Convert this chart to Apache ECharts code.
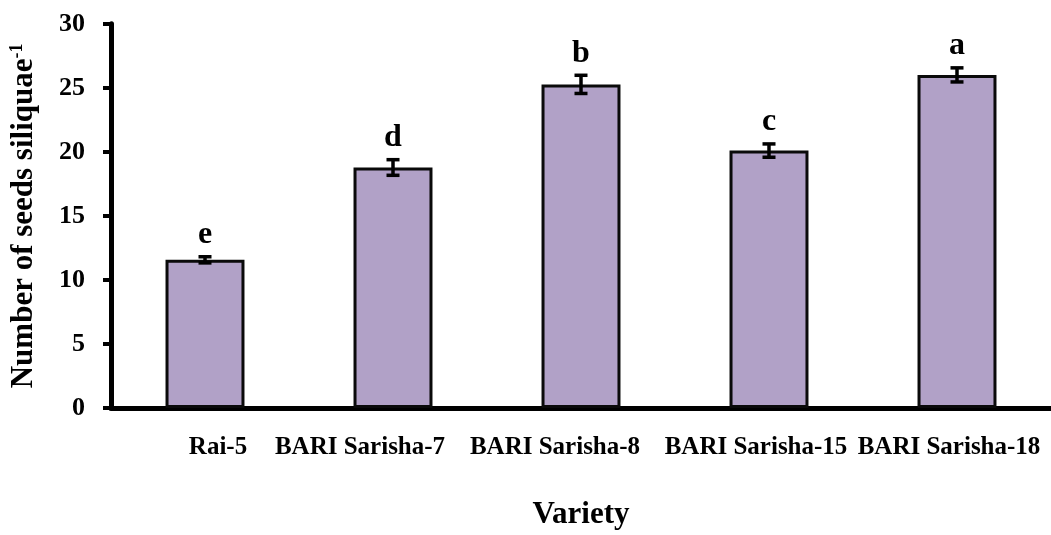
<!DOCTYPE html>
<html>
<head>
<meta charset="utf-8">
<script src="https://cdn.jsdelivr.net/npm/echarts@6/dist/echarts.min.js"></script>
<style>
  html, body { margin: 0; padding: 0; background: #fff; }
  #chart { width: 1051px; height: 535px; }
</style>
</head>
<body>
<div id="chart"></div>
<script>
// Mustard varieties and seeds per siliqua (mean, standard error, significance letter)
const varieties = ['Rai-5', 'BARI Sarisha-7', 'BARI Sarisha-8', 'BARI Sarisha-15', 'BARI Sarisha-18'];
const seedsPerSiliqua = [11.57, 18.78, 25.27, 20.10, 26.01];
const stdErrors = [0.24, 0.61, 0.71, 0.52, 0.55];
const letters = ['e', 'd', 'b', 'c', 'a'];
const yTicks = { min: 0, max: 30, interval: 5 };

const FONT = '"Liberation Serif", "Times New Roman", serif';
// horizontal nudges for each category label (px, + = right)
const labelShift = [13, -33, -26, -13, -8];
const labelRich = {};
labelShift.forEach((s, i) => {
  labelRich['c' + i] = {
    fontFamily: FONT, fontWeight: 'bold', fontSize: 25, color: '#000',
    padding: s >= 0 ? [0, 0, 0, 2 * s] : [0, -2 * s, 0, 0]
  };
});

const chart = echarts.init(document.getElementById('chart'), null, { renderer: 'canvas' });

chart.setOption({
  animation: false,
  backgroundColor: '#fff',
  grid: { left: 105.5, right: -8, top: 23.8, bottom: 118.5, containLabel: false },
  xAxis: {
    type: 'category',
    data: varieties,
    name: 'Variety',
    nameLocation: 'middle',
    nameGap: 91,
    nameTextStyle: { fontFamily: FONT, fontWeight: 'bold', fontSize: 31, color: '#000' },
    axisLine: { lineStyle: { color: '#000', width: 5 } },
    axisTick: { show: false },
    axisLabel: {
      margin: 27,
      interval: 0,
      formatter: (v, i) => '{c' + i + '|' + v + '}',
      rich: labelRich
    },
    splitLine: { show: false }
  },
  yAxis: {
    type: 'value',
    min: yTicks.min,
    max: yTicks.max,
    interval: yTicks.interval,
    name: 'Number of seeds siliquae{sup|-1}',
    nameLocation: 'middle',
    nameGap: 72,
    nameTextStyle: {
      fontFamily: FONT, fontWeight: 'bold', fontSize: 31, color: '#000',
      rich: {
        sup: { fontFamily: FONT, fontWeight: 'bold', fontSize: 18, color: '#000', verticalAlign: 'top', padding: [0, 0, 12, 0] }
      }
    },
    axisLine: { show: true, lineStyle: { color: '#000', width: 5 } },
    axisTick: { show: true, length: 8, lineStyle: { color: '#000', width: 4 } },
    axisLabel: { margin: 26, fontFamily: FONT, fontWeight: 'bold', fontSize: 26, color: '#000' },
    splitLine: { show: false }
  },
  series: [
    {
      type: 'bar',
      data: seedsPerSiliqua,
      barWidth: '42%',
      itemStyle: { color: '#B1A1C7', borderColor: '#0a0a0a', borderWidth: 3 },
      z: 2
    },
    {
      // error bars with significance letters
      type: 'custom',
      data: seedsPerSiliqua.map((v, i) => [i, v, stdErrors[i]]),
      z: 3,
      renderItem: (params, api) => {
        const i = api.value(0);
        const v = api.value(1);
        const e = api.value(2);
        const hi = api.coord([i, v + e]);
        const lo = api.coord([i, v - e]);
        const cap = 6.5;
        const ls = { stroke: '#000', lineWidth: 3.5 };
        return {
          type: 'group',
          children: [
            { type: 'line', shape: { x1: hi[0], y1: hi[1], x2: lo[0], y2: lo[1] }, style: ls },
            { type: 'line', shape: { x1: hi[0] - cap, y1: hi[1], x2: hi[0] + cap, y2: hi[1] }, style: ls },
            { type: 'line', shape: { x1: lo[0] - cap, y1: lo[1], x2: lo[0] + cap, y2: lo[1] }, style: ls },
            {
              type: 'text',
              style: {
                text: letters[params.dataIndex],
                x: hi[0], y: hi[1] - 6,
                align: 'center', verticalAlign: 'bottom',
                font: 'bold 32px ' + FONT, fill: '#000'
              }
            }
          ]
        };
      }
    }
  ]
});
</script>
</body>
</html>
